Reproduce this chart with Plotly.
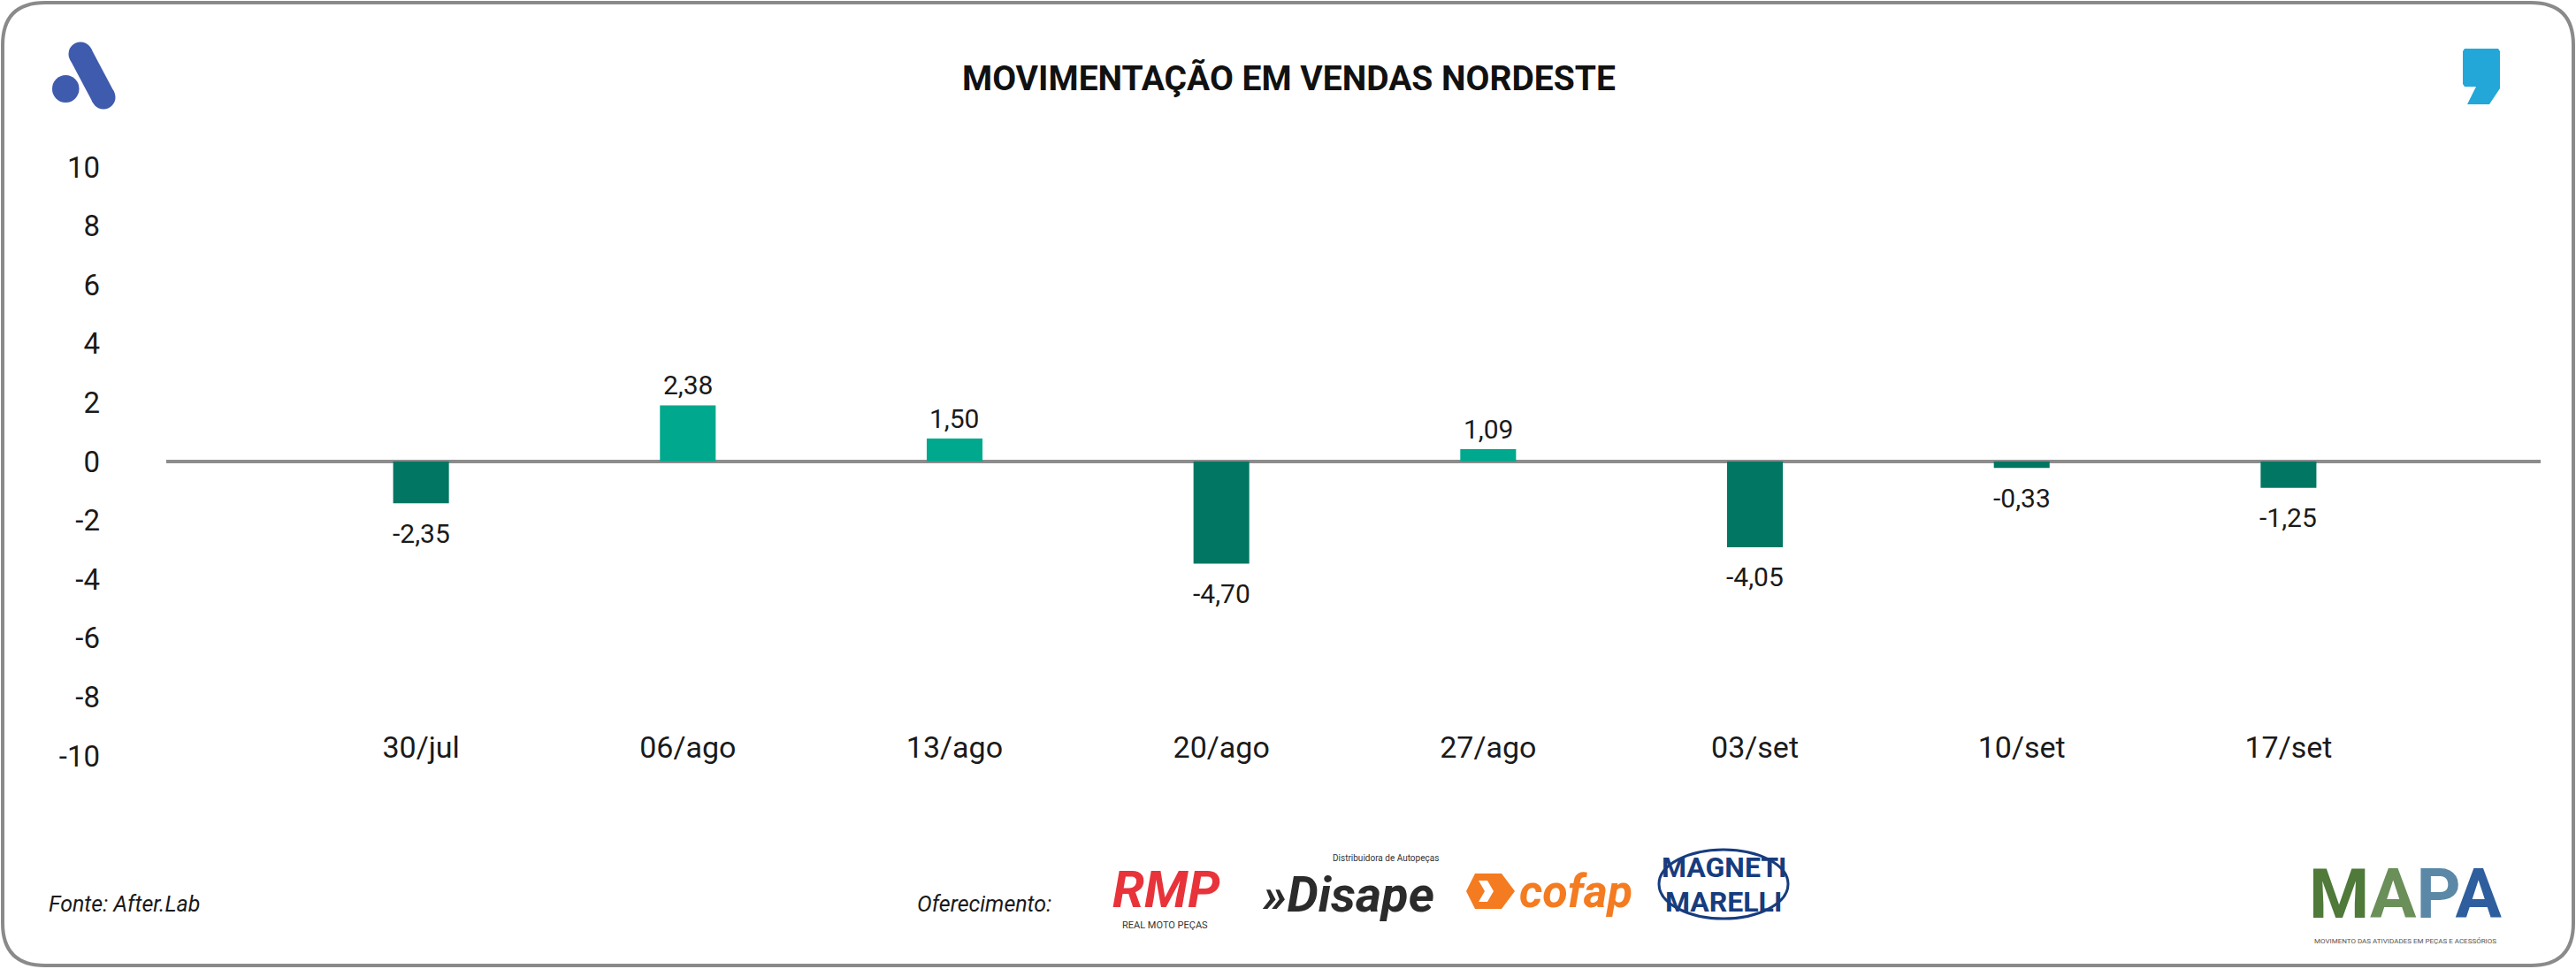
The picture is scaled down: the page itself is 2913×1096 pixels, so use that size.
import plotly.graph_objects as go

# ---------------- data ----------------
categories = ["30/jul", "06/ago", "13/ago", "20/ago", "27/ago", "03/set", "10/set", "17/set"]
bar_values = [-1.42, 1.91, 0.78, -3.47, 0.42, -2.91, -0.22, -0.89]
bar_labels = ["-2,35", "2,38", "1,50", "-4,70", "1,09", "-4,05", "-0,33", "-1,25"]
y_tick_vals = [-10, -8, -6, -4, -2, 0, 2, 4, 6, 8, 10]
y_tick_text = ["-10", "-8", "-6", "-4", "-2", "0", "2", "4", "6", "8", "10"]

title_text = "MOVIMENTAÇÃO EM VENDAS NORDESTE"
source_text = "Fonte: After.Lab"
sponsor_text = "Oferecimento:"

# ---------------- layout constants ----------------
W, H = 2913, 1096
ML, MR, MT, MB = 188, 40, 189, 241
PW, PH = W - ML - MR, H - MT - MB

POS_COLOR = "#00A88E"
NEG_COLOR = "#007663"
TEXT_COLOR = "#1A1A1A"
FONT = "Roboto, 'Open Sans', sans-serif"


def px(x):
    return (x - ML) / PW


def py(y):
    return (H - MB - y) / PH


def path_from(points, close=True):
    s = "M " + " L ".join(f"{px(x):.5f},{py(y):.5f}" for x, y in points)
    return s + (" Z" if close else "")


def text_ann(x, y, text, size, color, xanchor="center", family=FONT):
    return dict(x=px(x), y=py(y), xref="paper", yref="paper", text=text,
                showarrow=False, xanchor=xanchor, yanchor="middle",
                font=dict(family=family, size=size, color=color))


colors = [POS_COLOR if v >= 0 else NEG_COLOR for v in bar_values]

fig = go.Figure()
fig.add_trace(go.Bar(
    x=categories,
    y=bar_values,
    marker=dict(color=colors, line=dict(width=0)),
    width=0.209,
    hoverinfo="skip",
    showlegend=False,
))

annotations = []
# value labels
for c, v, t in zip(categories, bar_values, bar_labels):
    annotations.append(dict(
        x=c, y=v, xref="x", yref="y", text=t, showarrow=False,
        yanchor="middle", yshift=23 if v >= 0 else -34,
        font=dict(family=FONT, size=30, color=TEXT_COLOR),
    ))

annotations += [
    text_ann(1457, 89, f"<b>{title_text}</b>", 39, "#111111"),
    text_ann(53, 1022, f"<i>{source_text}</i>", 25, TEXT_COLOR, xanchor="left"),
    text_ann(1191, 1022, f"<i>{sponsor_text}</i>", 25, TEXT_COLOR, xanchor="right"),
    # RMP
    text_ann(1319, 1006, "<b><i>RMP</i></b>", 58, "#E8333A"),
    text_ann(1317, 1046, "REAL MOTO PEÇAS", 11, "#333333"),
    # Disape
    text_ann(1524, 1012, "<b><i>»Disape</i></b>", 56, "#2B2B2B"),
    text_ann(1567, 970, "Distribuidora de Autopeças", 10, "#333333"),
    # cofap
    text_ann(1782, 1008, "<b><i>cofap</i></b>", 52, "#F47B20"),
    # Magneti Marelli
    text_ann(1949, 981, "<b>MAGNETI</b>", 32, "#173C7E"),
    text_ann(1949, 1020, "<b>MARELLI</b>", 32, "#173C7E"),
    # MAPA
    text_ann(2720, 1011,
             "<b><span style='color:#4F7A3A'>M</span><span style='color:#6A8F58'>A</span>"
             "<span style='color:#5C88A8'>P</span><span style='color:#2E5E9E'>A</span></b>",
             78, "#4F7A3A"),
    text_ann(2720, 1064, "MOVIMENTO DAS ATIVIDADES EM PEÇAS E ACESSÓRIOS", 8, "#555555"),
]

shapes = []
# rounded border
x0, x1, y0, y1, r = 3, 2910, 3, 1092, 48
border = (
    f"M {px(x0 + r)},{py(y0)} L {px(x1 - r)},{py(y0)} "
    f"Q {px(x1)},{py(y0)} {px(x1)},{py(y0 + r)} L {px(x1)},{py(y1 - r)} "
    f"Q {px(x1)},{py(y1)} {px(x1 - r)},{py(y1)} L {px(x0 + r)},{py(y1)} "
    f"Q {px(x0)},{py(y1)} {px(x0)},{py(y1 - r)} L {px(x0)},{py(y0 + r)} "
    f"Q {px(x0)},{py(y0)} {px(x0 + r)},{py(y0)} Z"
)
shapes.append(dict(type="path", xref="paper", yref="paper", path=border,
                   line=dict(color="#8A8A8A", width=4), fillcolor="rgba(0,0,0,0)", layer="below"))

# blue "A" logo
BLUE = "#3F5BAD"
shapes.append(dict(type="circle", xref="paper", yref="paper",
                   x0=px(59), x1=px(89.5), y0=py(85), y1=py(116),
                   fillcolor=BLUE, line=dict(width=0)))
for cx, cy in [(91, 61), (117, 110)]:
    shapes.append(dict(type="circle", xref="paper", yref="paper",
                       x0=px(cx - 13.5), x1=px(cx + 13.5), y0=py(cy - 13.5), y1=py(cy + 13.5),
                       fillcolor=BLUE, line=dict(width=0)))
shapes.append(dict(type="path", xref="paper", yref="paper",
                   path=path_from([(102.9, 54.7), (128.9, 103.7), (105.1, 116.3), (79.1, 67.3)]),
                   fillcolor=BLUE, line=dict(width=0)))

# comma logo top right
shapes.append(dict(type="path", xref="paper", yref="paper",
                   path=path_from([(2787, 55), (2825, 55), (2827, 58), (2827, 100), (2815, 118),
                                   (2790, 118), (2800, 98), (2787, 98), (2785, 95), (2785, 58)]),
                   fillcolor="#22A7D8", line=dict(width=0)))

# cofap icon
shapes.append(dict(type="path", xref="paper", yref="paper",
                   path=path_from([(1668, 988), (1698, 988), (1713, 1008), (1698, 1028),
                                   (1668, 1028), (1658, 1008)]),
                   fillcolor="#F47B20", line=dict(width=0)))
shapes.append(dict(type="path", xref="paper", yref="paper",
                   path=path_from([(1672, 996), (1682, 996), (1689, 1008), (1682, 1020),
                                   (1672, 1020), (1679, 1008)]),
                   fillcolor="#FFFFFF", line=dict(width=0)))

# Magneti Marelli oval
shapes.append(dict(type="circle", xref="paper", yref="paper",
                   x0=px(1876), x1=px(2022), y0=py(961), y1=py(1039),
                   fillcolor="rgba(0,0,0,0)", line=dict(color="#173C7E", width=3)))

fig.update_layout(
    width=W, height=H,
    margin=dict(l=ML, r=MR, t=MT, b=MB),
    paper_bgcolor="#FFFFFF", plot_bgcolor="#FFFFFF",
    showlegend=False,
    annotations=annotations,
    shapes=shapes,
    font=dict(family=FONT, color=TEXT_COLOR),
    xaxis=dict(
        type="category",
        range=[-0.955, 7.945],
        showgrid=False, showline=False, zeroline=False, ticks="",
        tickfont=dict(family=FONT, size=34, color=TEXT_COLOR),
        anchor="free", position=py(822),
        automargin=False, fixedrange=True,
    ),
    yaxis=dict(
        range=[-10, 10],
        tickvals=y_tick_vals, ticktext=y_tick_text,
        showgrid=False, showline=False,
        zeroline=True, zerolinecolor="#8C8C8C", zerolinewidth=4,
        ticks="", ticklabelstandoff=74,
        tickfont=dict(family=FONT, size=33, color=TEXT_COLOR),
        automargin=False, fixedrange=True,
    ),
)

fig.write_html(
    "out.html",
    config={"displayModeBar": False},
    post_script="document.body.style.margin='0';document.body.style.padding='0';",
)
